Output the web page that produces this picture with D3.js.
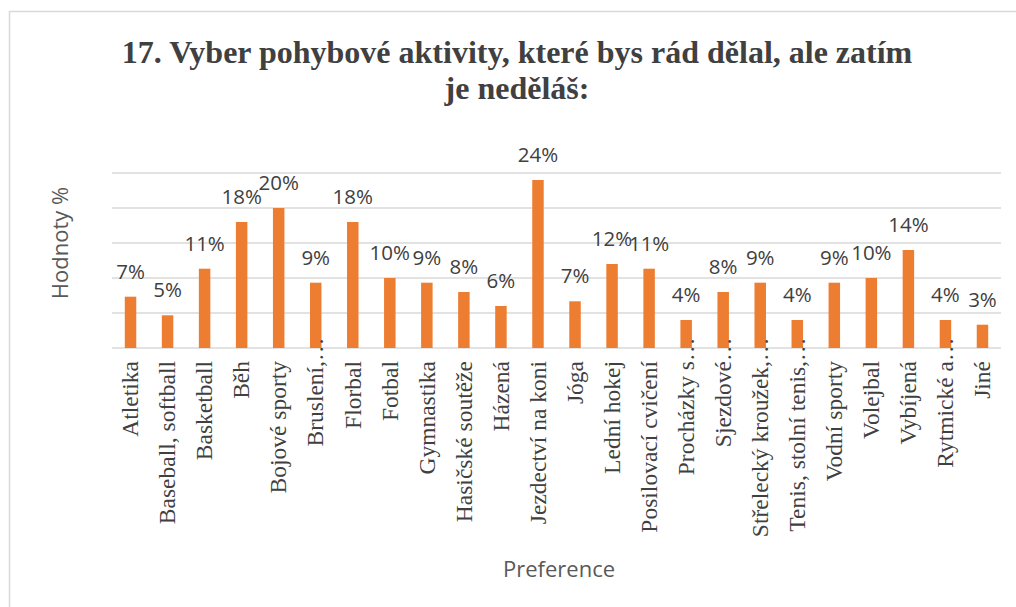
<!DOCTYPE html>
<html>
<head>
<meta charset="utf-8">
<script src="https://cdn.jsdelivr.net/npm/d3@7"></script>
<style>
  body { margin: 0; background: #fff; }
  svg { display: block; }
</style>
</head>
<body>
<div id="chart"></div>
<script>
// Categories and values (% of respondents)
const categories = [
  'Atletika', 'Baseball, softball', 'Basketball', 'Běh', 'Bojové sporty',
  'Bruslení,…', 'Florbal', 'Fotbal', 'Gymnastika', 'Hasičské soutěže',
  'Házená', 'Jezdectví na koni', 'Jóga', 'Lední hokej', 'Posilovací cvičení',
  'Procházky s…', 'Sjezdové…', 'Střelecký kroužek,…', 'Tenis, stolní tenis,…',
  'Vodní sporty', 'Volejbal', 'Vybíjená', 'Rytmické a…', 'Jiné'
];
const values = [
  7.33, 4.67, 11.33, 18.0, 20.0,
  9.33, 18.0, 10.0, 9.33, 8.0,
  6.0, 24.0, 6.67, 12.0, 11.33,
  4.0, 8.0, 9.33, 4.0,
  9.33, 10.0, 14.0, 4.0, 3.33
];
const gridTicks = [0, 5, 10, 15, 20, 25];
const titleLines = ['17. Vyber pohybové aktivity, které bys rád dělal, ale zatím', 'je neděláš:'];

const width = 1016, height = 607;
const plot = { left: 112, right: 1001, top: 173, bottom: 348 };

const svg = d3.select('#chart').append('svg')
  .attr('width', width)
  .attr('height', height);

// chart border
svg.append('rect')
  .attr('x', 9.5).attr('y', 11.5)
  .attr('width', 1030).attr('height', 620)
  .attr('fill', 'none')
  .attr('stroke', '#d9d9d9')
  .attr('stroke-width', 1.5);

const x = d3.scaleBand()
  .domain(categories)
  .range([plot.left, plot.right])
  .paddingInner(0.69)
  .paddingOuter(0.345);

const y = d3.scaleLinear()
  .domain([0, 25])
  .range([plot.bottom, plot.top]);

// gridlines
svg.append('g')
  .selectAll('line')
  .data(gridTicks)
  .join('line')
  .attr('x1', plot.left)
  .attr('x2', plot.right)
  .attr('y1', d => y(d))
  .attr('y2', d => y(d))
  .attr('stroke', '#d9d9d9')
  .attr('stroke-width', 1.5);

// bars
svg.append('g')
  .selectAll('rect')
  .data(values)
  .join('rect')
  .attr('x', (d, i) => x(categories[i]))
  .attr('y', d => y(d))
  .attr('width', x.bandwidth())
  .attr('height', d => y(0) - y(d))
  .attr('fill', '#ed7d31');

// data labels
svg.append('g')
  .selectAll('text')
  .data(values)
  .join('text')
  .attr('x', (d, i) => x(categories[i]) + x.bandwidth() / 2)
  .attr('y', d => y(d) - 18)
  .attr('text-anchor', 'middle')
  .attr('font-family', 'Open Sans, sans-serif')
  .attr('font-size', 20.5)
  .attr('fill', '#404040')
  .text(d => Math.round(d) + '%');

// category labels (rotated); truncated ones keep the ellipsis past the label end
const labelFont = 'Liberation Serif, Times New Roman, serif';
const xAxis = d3.axisBottom(x).tickSize(0).tickPadding(0)
  .tickFormat(d => d.replace('…', ''));
const gx = svg.append('g')
  .attr('transform', `translate(0,${y(0)})`)
  .call(xAxis);
gx.select('.domain').remove();
gx.selectAll('text')
  .attr('transform', 'rotate(-90)')
  .attr('x', -13)
  .attr('y', 0)
  .attr('dy', '0.33em')
  .attr('text-anchor', 'end')
  .attr('font-family', labelFont)
  .attr('font-size', 23.5)
  .attr('fill', '#404040');

gx.selectAll('.tick')
  .filter(d => d.endsWith('…'))
  .append('text')
  .attr('transform', 'rotate(-90)')
  .attr('x', -13)
  .attr('y', 0)
  .attr('dy', '0.33em')
  .attr('text-anchor', 'start')
  .attr('font-family', labelFont)
  .attr('font-size', 23.5)
  .attr('fill', '#404040')
  .text('…');

// title
svg.append('text')
  .attr('text-anchor', 'middle')
  .attr('font-family', 'Liberation Serif, Times New Roman, serif')
  .attr('font-weight', 'bold')
  .attr('font-size', 32)
  .attr('fill', '#404040')
  .selectAll('tspan')
  .data(titleLines)
  .join('tspan')
  .attr('x', 517)
  .attr('y', (d, i) => 63 + i * 36)
  .text(d => d);

// axis titles
svg.append('text')
  .attr('transform', 'translate(68,243) rotate(-90)')
  .attr('text-anchor', 'middle')
  .attr('font-family', 'Open Sans, sans-serif')
  .attr('font-size', 22)
  .attr('fill', '#595959')
  .text('Hodnoty %');

svg.append('text')
  .attr('x', 559)
  .attr('y', 577)
  .attr('text-anchor', 'middle')
  .attr('font-family', 'Open Sans, sans-serif')
  .attr('font-size', 22)
  .attr('fill', '#595959')
  .text('Preference');
</script>
</body>
</html>
